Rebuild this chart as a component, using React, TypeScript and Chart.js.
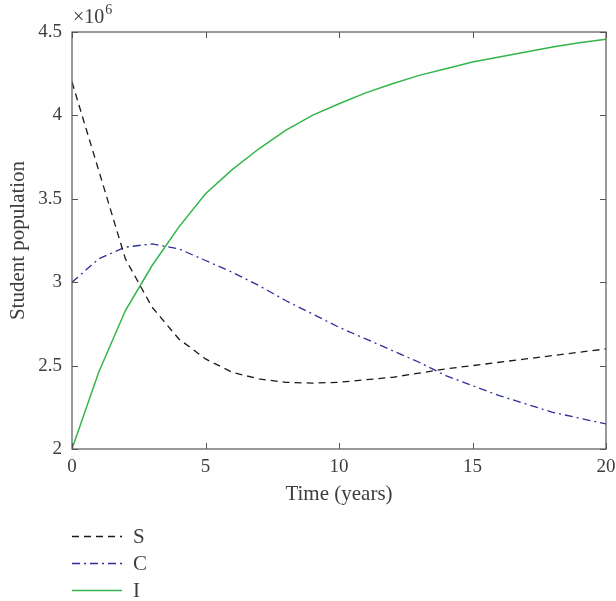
import React, { useEffect, useRef } from "react";
import { Chart, registerables } from "chart.js";

Chart.register(...registerables);

// Time in years
const years = [0, 1, 2, 3, 4, 5, 6, 7, 8, 9, 10, 11, 12, 13, 14, 15, 16, 17, 18, 19, 20];
// Populations in units of 10^6 students
const susceptible = [4.2, 3.67, 3.14, 2.85, 2.66, 2.54, 2.46, 2.42, 2.4, 2.395, 2.4, 2.415, 2.43, 2.455, 2.48, 2.5, 2.52, 2.54, 2.56, 2.58, 2.6];
const carriers = [3.0, 3.14, 3.21, 3.23, 3.2, 3.13, 3.06, 2.98, 2.89, 2.81, 2.73, 2.66, 2.59, 2.52, 2.44, 2.38, 2.32, 2.27, 2.22, 2.185, 2.15];
const infected = [2.0, 2.46, 2.83, 3.1, 3.33, 3.53, 3.675, 3.8, 3.91, 4.0, 4.07, 4.135, 4.19, 4.24, 4.28, 4.32, 4.35, 4.38, 4.41, 4.435, 4.456];

const seriesLabels = ["S", "C", "I"];
const xTicks = [0, 5, 10, 15, 20];
const yTicks = [2, 2.5, 3, 3.5, 4, 4.5];
const xTitle = "Time (years)";
const yTitle = "Student population";
const exponentBase = "\u00d710";
const exponentPower = "6";

const FONT = "'Liberation Serif', 'DejaVu Serif', serif";
const TEXT = "#3d3d3d";
const AXIS = "#555555";

const decorPlugin = {
  id: "decor",
  afterDraw(chart: any) {
    const { ctx, chartArea } = chart;
    const { left, right, top, bottom } = chartArea;
    const xs = chart.scales.x;
    const ys = chart.scales.y;
    ctx.save();
    // box
    ctx.strokeStyle = AXIS;
    ctx.lineWidth = 1.2;
    ctx.strokeRect(left, top, right - left, bottom - top);
    // inward ticks
    const tl = 6;
    ctx.lineWidth = 1;
    ctx.beginPath();
    xTicks.forEach((v) => {
      const px = Math.round(xs.getPixelForValue(v)) + 0.5;
      ctx.moveTo(px, bottom);
      ctx.lineTo(px, bottom - tl);
      ctx.moveTo(px, top);
      ctx.lineTo(px, top + tl);
    });
    yTicks.forEach((v) => {
      const py = Math.round(ys.getPixelForValue(v)) + 0.5;
      ctx.moveTo(left, py);
      ctx.lineTo(left + tl, py);
      ctx.moveTo(right, py);
      ctx.lineTo(right - tl, py);
    });
    ctx.stroke();

    // exponent label
    ctx.fillStyle = TEXT;
    ctx.textBaseline = "middle";
    ctx.textAlign = "left";
    ctx.font = `20px ${FONT}`;
    ctx.fillText(exponentBase, left + 1, 18);
    const w = ctx.measureText(exponentBase).width;
    ctx.font = `14px ${FONT}`;
    ctx.fillText(exponentPower, left + 1 + w + 1, 10);

    // legend
    const rows = [536, 563, 590];
    chart.data.datasets.forEach((ds: any, i: number) => {
      const y = rows[i] + 0.5;
      ctx.strokeStyle = ds.borderColor;
      ctx.lineWidth = ds.borderWidth;
      ctx.setLineDash(ds.borderDash || []);
      ctx.beginPath();
      ctx.moveTo(72, y);
      ctx.lineTo(122, y);
      ctx.stroke();
      ctx.setLineDash([]);
      ctx.fillStyle = TEXT;
      ctx.font = `21px ${FONT}`;
      ctx.textBaseline = "middle";
      ctx.textAlign = "left";
      ctx.fillText(ds.label, 133, rows[i] + 1);
    });
    ctx.restore();
  },
};

export default function App() {
  const ref = useRef<HTMLCanvasElement | null>(null);

  useEffect(() => {
    document.body.style.margin = "0";
    const canvas = ref.current;
    if (!canvas) return;
    const mk = (arr: number[]) => years.map((t, i) => ({ x: t, y: arr[i] }));
    const chart = new Chart(canvas, {
      type: "line",
      data: {
        datasets: [
          {
            label: seriesLabels[0],
            data: mk(susceptible),
            borderColor: "#1a1a1a",
            borderWidth: 1.3,
            borderDash: [7, 5],
            pointRadius: 0,
            tension: 0,
            fill: false,
          },
          {
            label: seriesLabels[1],
            data: mk(carriers),
            borderColor: "#2f2f9a",
            borderWidth: 1.3,
            borderDash: [8, 4, 2, 4],
            pointRadius: 0,
            tension: 0,
            fill: false,
          },
          {
            label: seriesLabels[2],
            data: mk(infected),
            borderColor: "#33b54a",
            borderWidth: 1.5,
            pointRadius: 0,
            tension: 0,
            fill: false,
          },
        ],
      },
      options: {
        responsive: false,
        animation: false,
        devicePixelRatio: 1,
        layout: { padding: { top: 32, right: 10, left: 0, bottom: 92 } },
        plugins: { legend: { display: false }, tooltip: { enabled: false } },
        scales: {
          x: {
            type: "linear",
            min: 0,
            max: 20,
            afterFit: (s: any) => {
              s.height = 60;
              s.paddingLeft = 0;
              s.paddingRight = 0;
            },
            afterBuildTicks: (s: any) => {
              s.ticks = xTicks.map((v) => ({ value: v }));
            },
            grid: { display: false, drawTicks: false, tickLength: 0 },
            border: { display: false },
            ticks: {
              color: TEXT,
              font: { family: FONT, size: 19 },
              padding: 7,
              maxRotation: 0,
              callback: (v: any) => String(v),
            },
            title: {
              display: true,
              text: xTitle,
              color: TEXT,
              font: { family: FONT, size: 21 },
              padding: { top: 0, bottom: 2 },
            },
          },
          y: {
            type: "linear",
            min: 2,
            max: 4.5,
            afterFit: (s: any) => {
              s.width = 72;
              s.paddingTop = 0;
              s.paddingBottom = 0;
            },
            afterBuildTicks: (s: any) => {
              s.ticks = yTicks.map((v) => ({ value: v }));
            },
            grid: { display: false, drawTicks: false, tickLength: 0 },
            border: { display: false },
            ticks: {
              color: TEXT,
              font: { family: FONT, size: 19 },
              padding: 10,
              callback: (v: any) => String(v),
            },
            title: {
              display: true,
              text: yTitle,
              color: TEXT,
              font: { family: FONT, size: 21 },
              padding: { top: 6, bottom: 0 },
            },
          },
        },
      },
      plugins: [decorPlugin],
    });
    return () => chart.destroy();
  }, []);

  return <canvas ref={ref} width={616} height={601} style={{ display: "block" }} />;
}
